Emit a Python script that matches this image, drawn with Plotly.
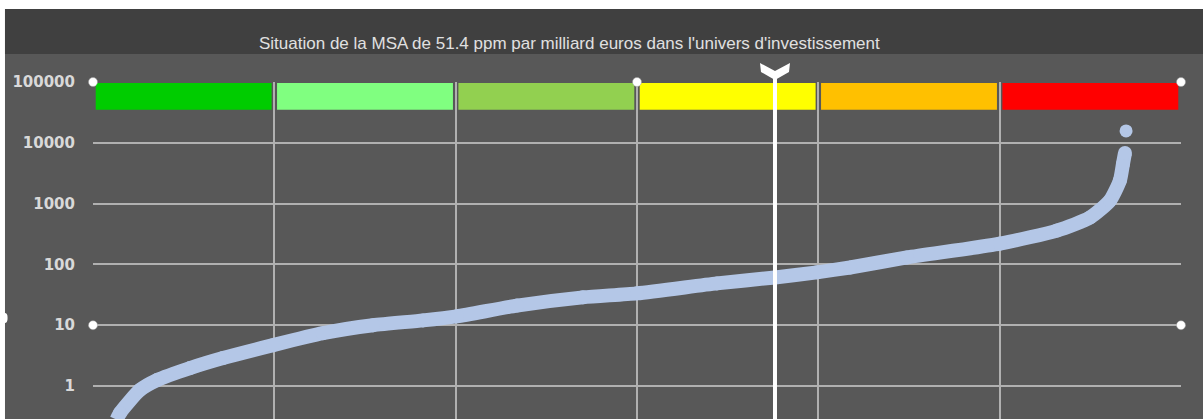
"""Situation de la MSA dans l'univers d'investissement (courbe log + zones)
"""
import plotly.graph_objects as go

# rang (en sixiemes de l'univers) et MSA en ppm par milliard d'euros
curve_x = [0.13, 0.149, 0.259, 0.353, 0.535, 0.717, 0.993, 1.268, 1.544, 1.82,
           2.007, 2.338, 2.702, 3.0, 3.441, 3.761, 3.993, 4.175, 4.489, 5.002,
           5.316, 5.498, 5.608, 5.663, 5.68, 5.691]
curve_y = [0.28, 0.36, 0.86, 1.25, 1.97, 2.88, 4.7, 7.4, 10, 12,
           14, 21, 28.7, 33.4, 48.7, 61, 74, 89, 130, 220,
           360, 590, 1120, 2400, 4500, 6800]
outlier_x = [5.697]
outlier_y = [15700]

zone_start = [0, 1, 2, 3, 4, 5]
zone_end = [1, 2, 3, 4, 5, 6]
zone_colors = ["#00CC00", "#80FF80", "#92D050", "#FFFF00", "#FFC000", "#FF0000"]

marker_pos = 3.761  # position de la MSA du portefeuille (51.4 ppm)

handle_x = [0, 3, 6, 0, 6]
handle_y = [100000, 100000, 100000, 10, 10]

y_ticks = [1, 10, 100, 1000, 10000, 100000]
y_labels = ["1", "10", "100", "1000", "10000", "100000"]

title = "Situation de la MSA de 51.4 ppm par milliard euros dans l'univers d'investissement"

BG = "#585858"
CURVE = "#B4C7E7"
GRID = "#B0B0B0"

fig = go.Figure()
fig.add_trace(go.Scatter(
    x=curve_x, y=curve_y, mode="lines+markers",
    line=dict(color=CURVE, width=14, shape="spline", smoothing=0.6),
    marker=dict(color=CURVE, size=14),
    hoverinfo="skip",
))
fig.add_trace(go.Scatter(
    x=outlier_x, y=outlier_y, mode="markers",
    marker=dict(color=CURVE, size=13), hoverinfo="skip",
))

# zones de couleur en haut du graphe
for x0, x1, c in zip(zone_start, zone_end, zone_colors):
    fig.add_shape(type="rect", xref="x", yref="y",
                  x0=x0 + 0.015, x1=x1 - 0.015, y0=35000, y1=96000,
                  fillcolor=c, line_width=0, layer="below")

# fonds : bande titre, bords blancs
fig.add_shape(type="rect", xref="paper", yref="paper",
              x0=-0.2, x1=1.1, y0=1.2166, y1=1.4,
              fillcolor="white", line_width=0, layer="below")
fig.add_shape(type="rect", xref="paper", yref="paper",
              x0=-0.2, x1=-0.0809, y0=-0.1, y1=1.4,
              fillcolor="white", line_width=0, layer="below")
fig.add_shape(type="rect", xref="paper", yref="paper",
              x0=-0.0809, x1=1.1, y0=1.083, y1=1.2166,
              fillcolor="#404040", line_width=0, layer="below")

# repere de la MSA du portefeuille
fig.add_shape(type="line", xref="x", yref="paper",
              x0=marker_pos, x1=marker_pos, y0=0, y1=1.03,
              line=dict(color="white", width=4))
fig.add_shape(type="path", xref="x", yref="paper",
              xsizemode="pixel", ysizemode="pixel",
              xanchor=marker_pos, yanchor=1,
              path="M-15,19 L0,11 L15,19 L14,10 L0,2 L-14,10 Z",
              fillcolor="white", line_width=0)

# poignees de selection
fig.add_trace(go.Scatter(
    x=handle_x, y=handle_y, mode="markers", cliponaxis=False,
    marker=dict(color="white", size=9, line=dict(color="#999999", width=0.5)),
    hoverinfo="skip",
))
fig.add_shape(type="circle", xref="paper", yref="paper",
              x0=-0.0835, x1=-0.0785, y0=0.285, y1=0.3145,
              fillcolor="white", line_width=0)

fig.add_annotation(text=title, xref="paper", yref="paper",
                   x=0.4384, y=1.148, showarrow=False,
                   font=dict(family="Liberation Sans, Arial", size=17, color="#E0E0E0"))

fig.update_layout(
    width=1203, height=419, autosize=False,
    margin=dict(l=93, r=22, t=82, b=0),
    paper_bgcolor=BG, plot_bgcolor=BG,
    showlegend=False,
    xaxis=dict(range=[0, 6], dtick=1, tick0=0, showgrid=True, gridcolor=GRID,
               gridwidth=1.5, zeroline=False, showticklabels=False, showline=False),
    yaxis=dict(type="log", range=[-0.543, 5], tickvals=y_ticks, ticktext=y_labels,
               showgrid=True, gridcolor=GRID, gridwidth=1.5, zeroline=False,
               ticklabelstandoff=17,
               tickfont=dict(family="DejaVu Sans", size=15, color="#D9D9D9", weight="bold")),
)

# la page ne doit pas decaler le graphe (marge par defaut du body)
fig.write_html("out.html", config={"displayModeBar": False},
               post_script="document.body.style.margin='0';")
